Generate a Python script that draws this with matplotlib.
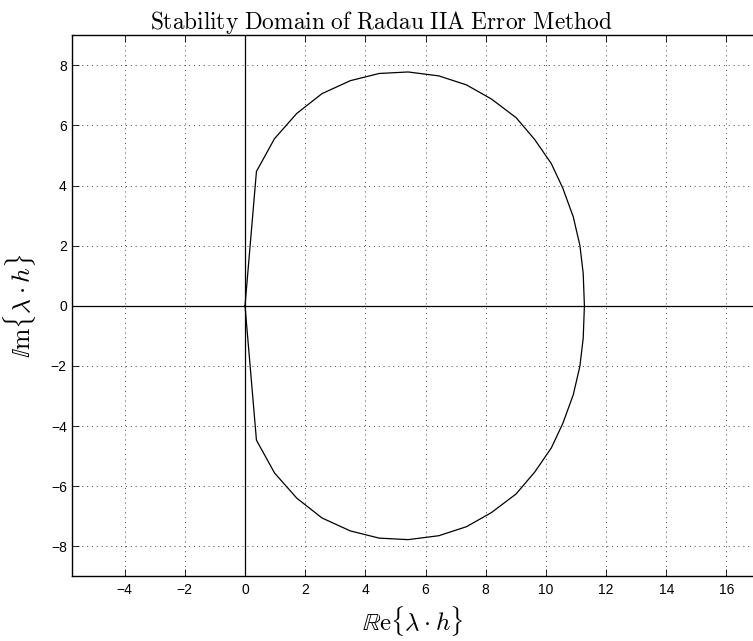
import matplotlib
matplotlib.use("Agg")
import matplotlib.pyplot as plt
import numpy as np

plt.rcParams['mathtext.fontset'] = 'cm'

# Boundary of the stability domain
re_vals = [0.0, 0.38, 0.98, 1.72, 2.56, 3.50, 4.46, 5.42, 6.44, 7.36, 8.19, 9.01,
           9.63, 10.18, 10.56, 10.91, 11.13, 11.24, 11.28,
           11.24, 11.13, 10.91, 10.56, 10.18, 9.63, 9.01, 8.19, 7.36, 6.44,
           5.42, 4.46, 3.50, 2.56, 1.72, 0.98, 0.38, 0.0]
im_vals = [0.0, 4.47, 5.56, 6.40, 7.06, 7.49, 7.73, 7.78, 7.65, 7.35, 6.88, 6.26,
           5.53, 4.73, 3.92, 2.96, 2.01, 1.08, 0.0,
           -1.08, -2.01, -2.96, -3.92, -4.73, -5.53, -6.26, -6.88, -7.35, -7.65,
           -7.78, -7.73, -7.49, -7.06, -6.40, -5.56, -4.47, 0.0]

xticks = [-4, -2, 0, 2, 4, 6, 8, 10, 12, 14, 16]
yticks = [-8, -6, -4, -2, 0, 2, 4, 6, 8]
xlim = (-5.76, 16.9)
ylim = (-9, 9)

W, H = 753, 641
fig = plt.figure(figsize=(W / 100, H / 100), dpi=100)
left, right, top, bottom = 71.7, 753.5, 35.3, 576.3
ax = fig.add_axes([left / W, 1 - bottom / H, (right - left) / W, (bottom - top) / H])

ax.plot(re_vals, im_vals, color='black', lw=0.9)
ax.axhline(0, color='black', lw=0.9)
ax.axvline(0, color='black', lw=0.9)

ax.set_xlim(*xlim)
ax.set_ylim(*ylim)
ax.set_xticks(xticks)
ax.set_yticks(yticks)
ax.set_xticklabels([str(t).replace('-', '\u2212') for t in xticks])
ax.set_yticklabels([str(t).replace('-', '\u2212') for t in yticks])
for lab in ax.get_xticklabels() + ax.get_yticklabels():
    lab.set_family('Liberation Sans')
    lab.set_fontsize(10)

ax.tick_params(direction='in', top=True, right=False, length=5, width=0.6)
ax.tick_params(axis='x', pad=5)
ax.tick_params(axis='y', pad=3.5)
ax.grid(True, linestyle=(0, (1, 4)), color='#444444', lw=0.7)
ax.spines['right'].set_visible(False)
for s in ['left', 'bottom', 'top']:
    ax.spines[s].set_linewidth(1.0)

fig.text(381.5 / W, 1 - 29.5 / H,
         r'$\mathrm{Stability\ Domain\ of\ Radau\ IIA\ Error\ Method}$',
         fontsize=16.8, ha='center', va='baseline')
ax.set_xlabel(r'$\mathbb{R}\mathrm{e}\{\lambda\cdot h\}$', fontsize=18, labelpad=5)
ax.set_ylabel(r'$\mathbb{I}\mathrm{m}\{\lambda\cdot h\}$', fontsize=18.5, labelpad=9)

fig.savefig('out.png', dpi=100)
